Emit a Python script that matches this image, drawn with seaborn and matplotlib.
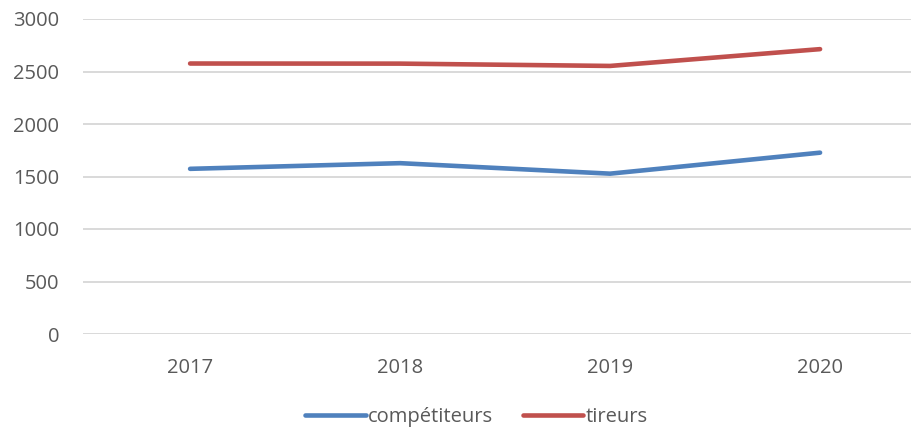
import matplotlib
matplotlib.use("Agg")
import matplotlib.pyplot as plt
import seaborn as sns
import pandas as pd

years = ["2017", "2018", "2019", "2020"]
competiteurs = [1573, 1627, 1527, 1727]
tireurs = [2576, 2575, 2553, 2713]
series_names = ["compétiteurs", "tireurs"]
colors = ["#4F81BD", "#C0504D"]
yticks = [0, 500, 1000, 1500, 2000, 2500, 3000]

sns.set_theme(style="white")
plt.rcParams['font.family'] = ['Open Sans', 'DejaVu Sans']

df = pd.DataFrame({
    "x": list(range(len(years))) * 2,
    "value": competiteurs + tireurs,
    "serie": [series_names[0]] * len(years) + [series_names[1]] * len(years),
})

fig = plt.figure(figsize=(9.11, 4.32), dpi=100)
ax = fig.add_axes([83 / 911, 1 - 334 / 432, 1 - 83 / 911, (334 - 19) / 432])

sns.lineplot(data=df, x="x", y="value", hue="serie", palette=colors,
             linewidth=3.3, ax=ax, solid_capstyle="round", legend=False)

ax.set_xlim(-0.51, 3.433)
ax.set_ylim(0, 3000)
ax.set_yticks(yticks)
ax.set_yticklabels([str(v) for v in yticks])
ax.set_xticks(range(len(years)))
ax.set_xticklabels(years)
ax.set_xlabel("")
ax.set_ylabel("")
ax.grid(axis="y", color="#D9D9D9", linewidth=1.4)
ax.set_axisbelow(True)
for s in ax.spines.values():
    s.set_visible(False)
ax.tick_params(axis="both", length=0, labelsize=14.5, labelcolor="#595959")
ax.tick_params(axis="y", pad=17)
ax.tick_params(axis="x", pad=17)

from matplotlib.lines import Line2D
handles = [Line2D([0], [0], color=c, linewidth=3.3, solid_capstyle="round") for c in colors]
fig.legend(handles, series_names, loc="center", bbox_to_anchor=(0.523, 0.035),
           ncol=2, frameon=False, fontsize=14.5, labelcolor="#595959",
           handlelength=3.0, handletextpad=0.1, columnspacing=1.5)

fig.savefig("out.png", dpi=100)
